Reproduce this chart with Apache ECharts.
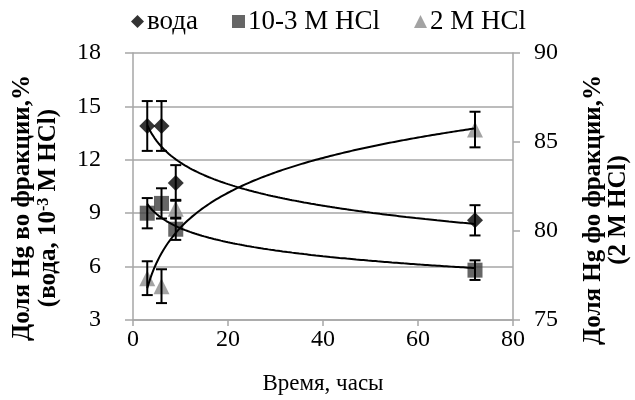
<!DOCTYPE html>
<html><head><meta charset="utf-8">
<script src="https://cdn.jsdelivr.net/npm/echarts@6/dist/echarts.min.js"></script>
<style>html,body{margin:0;padding:0;background:#fff}#c{width:635px;height:400px}</style>
</head><body><div id="c"></div>
<script>
const times = [3, 6, 9, 72];
const water = [13.9, 13.9, 10.7, 8.6];
const waterErr = [1.4, 1.4, 1.0, 0.85];
const hcl3 = [9.0, 9.55, 8.1, 5.8];
const hcl3Err = [0.85, 0.85, 0.6, 0.55];
const hcl2 = [77.35, 76.9, 81.25, 85.7];
const hcl2Err = [0.95, 0.95, 0.5, 1.0];
const xTicks = [0, 20, 40, 60, 80];
const leftTicks = [3, 6, 9, 12, 15, 18];
const rightTicks = [75, 80, 85, 90];

const FONT = '"Liberation Serif", "Times New Roman", serif';

// logarithmic trendline fitted to data (least squares on ln x)
function logFit(xs, ys) {
  const L = xs.map(Math.log);
  const n = xs.length;
  const mL = L.reduce((a, b) => a + b, 0) / n;
  const mY = ys.reduce((a, b) => a + b, 0) / n;
  let sxy = 0, sxx = 0;
  for (let i = 0; i < n; i++) { sxy += (L[i] - mL) * (ys[i] - mY); sxx += (L[i] - mL) ** 2; }
  const b = sxy / sxx, a = mY - b * mL;
  const pts = [];
  const x0 = Math.min(...xs), x1 = Math.max(...xs);
  for (let x = x0; x <= x1 + 1e-9; x += 0.5) pts.push([x, a + b * Math.log(x)]);
  return pts;
}

function pairs(ys) { return times.map((t, i) => [t, ys[i]]); }
function errData(ys, es) { return times.map((t, i) => [t, ys[i], es[i]]); }

function errRender(params, api) {
  const x = api.value(0), y = api.value(1), e = api.value(2);
  const top = api.coord([x, y + e]);
  const bot = api.coord([x, y - e]);
  const w = 5.5;
  const st = { stroke: '#000', lineWidth: 2 };
  return { type: 'group', children: [
    { type: 'line', shape: { x1: top[0], y1: top[1], x2: bot[0], y2: bot[1] }, style: st },
    { type: 'line', shape: { x1: top[0] - w, y1: top[1], x2: top[0] + w, y2: top[1] }, style: st },
    { type: 'line', shape: { x1: bot[0] - w, y1: bot[1], x2: bot[0] + w, y2: bot[1] }, style: st }
  ]};
}

const chart = echarts.init(document.getElementById('c'));
const axisGray = '#a6a6a6';
chart.setOption({
  animation: false,
  backgroundColor: '#fff',
  grid: { left: 133, right: 122, top: 53, bottom: 78 },
  legend: {
    left: 126, top: 3, itemWidth: 13, itemHeight: 13, itemGap: 34,
    textStyle: { fontFamily: FONT, fontSize: 27, color: '#000', padding: [0, 0, 0, -2] },
    data: [
      { name: 'вода', icon: 'diamond' },
      { name: '10-3 M HCl', icon: 'rect' },
      { name: '2 M HCl', icon: 'triangle' }
    ]
  },
  xAxis: {
    type: 'value', min: 0, max: 80, interval: 20,
    axisLine: { lineStyle: { color: axisGray, width: 1.5 } },
    axisTick: { show: true, length: 6, lineStyle: { color: axisGray, width: 1.5 } },
    splitLine: { show: false },
    axisLabel: { fontFamily: FONT, fontSize: 24, color: '#000', margin: 8,
      formatter: v => xTicks.includes(v) ? String(v) : '' },
    name: 'Время, часы', nameLocation: 'middle', nameGap: 52,
    nameTextStyle: { fontFamily: FONT, fontSize: 23, color: '#000' }
  },
  yAxis: [
    {
      type: 'value', min: 3, max: 18, interval: 3, position: 'left',
      axisLine: { show: true, lineStyle: { color: axisGray, width: 1.5 } },
      axisTick: { show: true, length: 8, lineStyle: { color: axisGray, width: 1.5 } },
      splitLine: { show: true, lineStyle: { color: axisGray, width: 1.5 } },
      axisLabel: { fontFamily: FONT, fontSize: 24, color: '#000', margin: 32,
        formatter: v => leftTicks.includes(v) ? String(v) : '' }
    },
    {
      type: 'value', min: 75, max: 90, interval: 5, position: 'right',
      axisLine: { show: true, lineStyle: { color: axisGray, width: 1.5 } },
      axisTick: { show: true, length: 7, lineStyle: { color: axisGray, width: 1.5 } },
      splitLine: { show: false },
      axisLabel: { fontFamily: FONT, fontSize: 24, color: '#000', margin: 21,
        formatter: v => rightTicks.includes(v) ? String(v) : '' }
    }
  ],
  graphic: [
    {
      type: 'text', x: 36, y: 208, rotation: Math.PI / 2,
      style: {
        text: '{b|Доля Hg во фракции,%}\n{b|(вода, 10}{s|-3}{b| M HCl)}',
        align: 'center', verticalAlign: 'middle', fill: '#000',
        rich: {
          b: { fontFamily: FONT, fontSize: 25, fontWeight: 'bold', lineHeight: 26, fill: '#000' },
          s: { fontFamily: FONT, fontSize: 16, fontWeight: 'bold', lineHeight: 26, verticalAlign: 'top', fill: '#000' }
        }
      }
    },
    {
      type: 'text', x: 606, y: 210, rotation: Math.PI / 2,
      style: {
        text: '{b|Доля Hg фо фракции,%}\n{b|(2 M HCl)}',
        align: 'center', verticalAlign: 'middle', fill: '#000',
        rich: {
          b: { fontFamily: FONT, fontSize: 25, fontWeight: 'bold', lineHeight: 25, fill: '#000' }
        }
      }
    }
  ],
  series: [
    { name: 'вода', type: 'scatter', data: pairs(water), symbol: 'diamond', symbolSize: 16,
      itemStyle: { color: '#000' }, z: 3 },
    { name: '10-3 M HCl', type: 'scatter', data: pairs(hcl3), symbol: 'rect', symbolSize: 15,
      itemStyle: { color: '#404040' }, z: 3 },
    { name: '2 M HCl', type: 'scatter', yAxisIndex: 1, data: pairs(hcl2), symbol: 'triangle', symbolSize: 16,
      itemStyle: { color: '#8c8c8c' }, z: 3 },
    { name: 'errW', type: 'custom', data: errData(water, waterErr), renderItem: errRender, z: 4 },
    { name: 'errH3', type: 'custom', data: errData(hcl3, hcl3Err), renderItem: errRender, z: 4 },
    { name: 'errH2', type: 'custom', yAxisIndex: 1, data: errData(hcl2, hcl2Err), renderItem: errRender, z: 4 },
    { name: 'trendW', type: 'line', data: logFit(times, water), showSymbol: false, symbol: 'none',
      lineStyle: { color: '#000', width: 2 }, z: 5, silent: true },
    { name: 'trendH3', type: 'line', data: logFit(times, hcl3), showSymbol: false, symbol: 'none',
      lineStyle: { color: '#000', width: 2 }, z: 5, silent: true },
    { name: 'trendH2', type: 'line', yAxisIndex: 1, data: logFit(times, hcl2), showSymbol: false, symbol: 'none',
      lineStyle: { color: '#000', width: 2 }, z: 5, silent: true }
  ]
});
</script></body></html>
